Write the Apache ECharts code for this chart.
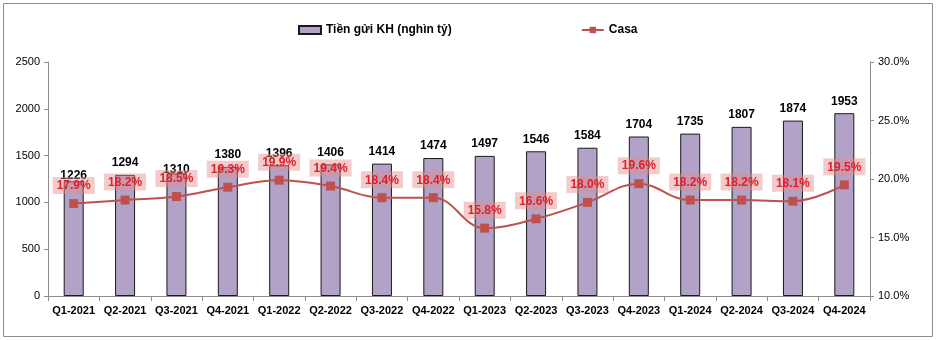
<!DOCTYPE html>
<html>
<head>
<meta charset="utf-8">
<script src="https://cdn.jsdelivr.net/npm/echarts@6/dist/echarts.min.js"></script>
<style>
  html, body { margin: 0; padding: 0; background: #fff; }
  #chart { width: 938px; height: 340px; }
</style>
</head>
<body>
<div id="chart"></div>
<script>
// quý
var quarters = ["Q1-2021", "Q2-2021", "Q3-2021", "Q4-2021", "Q1-2022", "Q2-2022", "Q3-2022", "Q4-2022",
                "Q1-2023", "Q2-2023", "Q3-2023", "Q4-2023", "Q1-2024", "Q2-2024", "Q3-2024", "Q4-2024"];
// tiền gửi khách hàng (nghìn tỷ)
var deposits = [1226, 1294, 1310, 1380, 1396, 1406, 1414, 1474, 1497, 1546, 1584, 1704, 1735, 1807, 1874, 1953];
// tỷ lệ CASA (%)
var casa = [17.9, 18.2, 18.5, 19.3, 19.9, 19.4, 18.4, 18.4, 15.8, 16.6, 18.0, 19.6, 18.2, 18.2, 18.1, 19.5];

var font = "Liberation Sans, DejaVu Sans, sans-serif";
var chart = echarts.init(document.getElementById("chart"));

// mấy nhãn cột bị kéo xuống sát đầu cột
var labelDrop = { 0: -6, 2: -8 };
var barData = deposits.map(function (v, i) {
  if (labelDrop[i] === undefined) return v;
  return { value: v, label: { distance: 6 + labelDrop[i] } };
});

var option = {
  animation: false,
  textStyle: { fontFamily: font },
  graphic: [{
    type: "rect",
    shape: { x: 3.5, y: 3.5, width: 929, height: 333 },
    style: { fill: "none", stroke: "#8c8c8c", lineWidth: 1 },
    silent: true
  }],
  legend: {
    top: 24,
    left: 298,
    padding: 0,
    itemGap: 129,
    itemWidth: 22,
    itemHeight: 8,
    textStyle: { fontSize: 12, fontWeight: "bold", color: "#000", fontFamily: font },
    data: [
      { name: "Tiền gửi KH (nghìn tỷ)", icon: "rect" },
      { name: "Casa" }
    ]
  },
  grid: { left: 48, right: 68, top: 62, bottom: 44 },
  xAxis: {
    type: "category",
    data: quarters,
    axisLine: { lineStyle: { color: "#8c8c8c" } },
    axisTick: { show: true, length: 5, lineStyle: { color: "#8c8c8c" } },
    axisLabel: { color: "#000", fontSize: 11, fontWeight: "bold", margin: 9, interval: 0, fontFamily: font }
  },
  yAxis: [
    {
      type: "value",
      min: 0, max: 2500, interval: 500,
      splitLine: { show: false },
      axisLine: { show: true, lineStyle: { color: "#8c8c8c" } },
      axisTick: { show: true, length: 4, lineStyle: { color: "#8c8c8c" } },
      axisLabel: {
        color: "#000", fontSize: 11, margin: 8, fontFamily: font,
        formatter: function (v) { return String(v); }
      }
    },
    {
      type: "value",
      min: 10, max: 30, interval: 5,
      position: "right",
      splitLine: { show: false },
      axisLine: { show: true, lineStyle: { color: "#8c8c8c" } },
      axisTick: { show: true, length: 4, lineStyle: { color: "#8c8c8c" } },
      axisLabel: {
        color: "#000", fontSize: 11, margin: 8, fontFamily: font,
        formatter: function (v) { return v.toFixed(1) + "%"; }
      }
    }
  ],
  series: [
    {
      name: "Tiền gửi KH (nghìn tỷ)",
      type: "bar",
      data: barData,
      barWidth: 20,
      itemStyle: { color: "#B3A2C7", borderColor: "#1a1a1a", borderWidth: 1 },
      label: {
        show: true,
        position: "top",
        distance: 6,
        color: "#000",
        fontSize: 12,
        fontWeight: "bold",
        fontFamily: font
      },
      z: 2
    },
    {
      name: "Casa",
      type: "line",
      yAxisIndex: 1,
      data: casa,
      smooth: 0.4,
      symbol: "rect",
      symbolSize: 9,
      lineStyle: { color: "#C0504D", width: 2 },
      itemStyle: { color: "#C0504D" },
      label: {
        show: true,
        position: "top",
        distance: 5,
        color: "#E0202A",
        fontSize: 12,
        fontWeight: "bold",
        fontFamily: font,
        backgroundColor: "rgba(228,140,140,0.45)",
        padding: [3, 4, 2, 4],
        formatter: function (p) { return p.value.toFixed(1) + "%"; }
      },
      z: 5
    }
  ]
};

chart.setOption(option);
</script>
</body>
</html>
